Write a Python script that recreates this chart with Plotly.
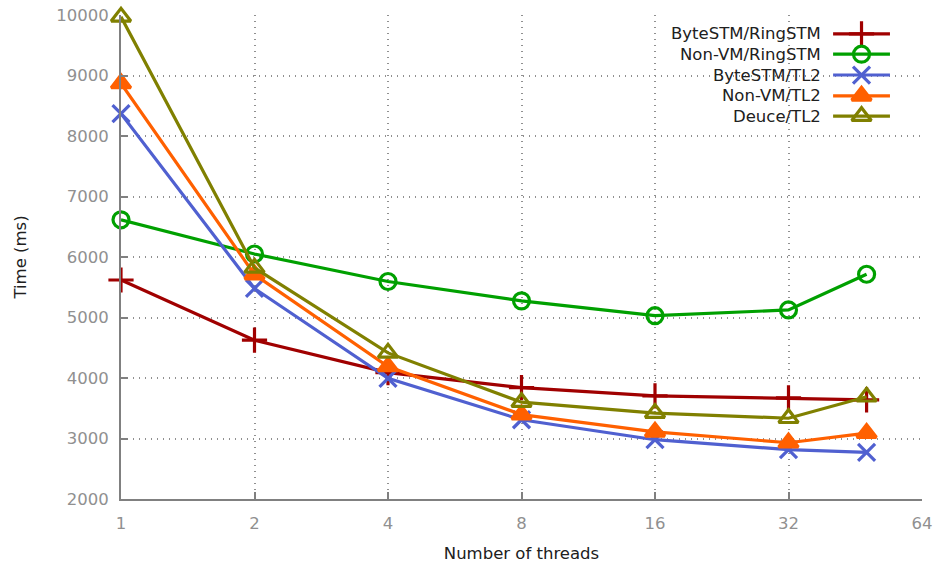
import math
import plotly.graph_objects as go

threads = [1, 2, 4, 8, 16, 32, 48]
series_names = ["ByteSTM/RingSTM", "Non-VM/RingSTM", "ByteSTM/TL2", "Non-VM/TL2", "Deuce/TL2"]
bytestm_ringstm = [5620, 4625, 4090, 3840, 3705, 3670, 3640]
nonvm_ringstm = [6615, 6050, 5595, 5275, 5030, 5125, 5715]
bytestm_tl2 = [8370, 5480, 3995, 3310, 2980, 2815, 2770]
nonvm_tl2 = [8870, 5710, 4190, 3395, 3110, 2930, 3090]
deuce_tl2 = [9970, 5820, 4415, 3600, 3420, 3335, 3690]
x_ticks = [1, 2, 4, 8, 16, 32, 64]
y_ticks = [2000, 3000, 4000, 5000, 6000, 7000, 8000, 9000, 10000]

values = [bytestm_ringstm, nonvm_ringstm, bytestm_tl2, nonvm_tl2, deuce_tl2]
colors = ["#a00000", "#00a000", "#5060d0", "#ff6000", "#808000"]
symbols = ["cross-thin", "circle-open", "x-thin", "triangle-up", "triangle-up-open"]
sizes = [18, 16, 17, 17, 17]

FONT = "DejaVu Sans"
fig = go.Figure()

for name, vals, c, s, sz in zip(series_names, values, colors, symbols, sizes):
    fig.add_trace(go.Scatter(
        x=threads, y=vals, name=name, mode="lines+markers",
        line=dict(color=c, width=3.2),
        marker=dict(symbol=s, size=sz, color=c, line=dict(color=c, width=3.2)),
        showlegend=False, hoverinfo="skip", cliponaxis=False,
    ))

# custom gnuplot-style legend (text left, sample on the right)
row_y = [0.961, 0.919, 0.876, 0.833, 0.791]
annotations = []
for name, c, s, sz, ry in zip(series_names, colors, symbols, sizes, row_y):
    fig.add_trace(go.Scatter(
        x=[0.889, 0.960], y=[ry, ry], mode="lines", xaxis="x2", yaxis="y2",
        line=dict(color=c, width=3.2), showlegend=False, hoverinfo="skip",
    ))
    fig.add_trace(go.Scatter(
        x=[0.9245], y=[ry], mode="markers", xaxis="x2", yaxis="y2",
        marker=dict(symbol=s, size=sz, color=c, line=dict(color=c, width=3.2)),
        showlegend=False, hoverinfo="skip",
    ))
    annotations.append(dict(
        x=0.876, y=ry, xref="paper", yref="paper", text=name, showarrow=False,
        xanchor="right", yanchor="middle", font=dict(family=FONT, size=16.5, color="#202020"),
    ))

grid_dash = "1px,5px"
fig.update_layout(
    width=939, height=563,
    margin=dict(l=121, r=17, t=15, b=64),
    paper_bgcolor="white", plot_bgcolor="white",
    font=dict(family=FONT, size=16.5, color="#202020"),
    annotations=annotations,
    xaxis=dict(
        type="log", range=[0, math.log10(64)], automargin=False,
        tickvals=x_ticks, ticktext=[str(v) for v in x_ticks],
        ticks="inside", ticklen=7, tickwidth=2, tickcolor="#808080",
        ticklabelstandoff=8,
        showline=True, linecolor="#808080", linewidth=2,
        showgrid=True, gridcolor="#909090", griddash=grid_dash, gridwidth=1.5,
        zeroline=False, mirror=False,
        tickfont=dict(family=FONT, size=16.5, color="#909090"),
        title=dict(text="Number of threads", font=dict(family=FONT, size=16.5, color="#202020"), standoff=18),
    ),
    yaxis=dict(
        range=[2000, 10000], automargin=False,
        tickvals=y_ticks, ticktext=[str(v) for v in y_ticks],
        ticks="inside", ticklen=7, tickwidth=2, tickcolor="#808080",
        ticklabelstandoff=7,
        showline=True, linecolor="#808080", linewidth=2,
        showgrid=True, gridcolor="#909090", griddash=grid_dash, gridwidth=1.5,
        zeroline=False,
        tickfont=dict(family=FONT, size=16.5, color="#909090"),
        title=dict(text="Time (ms)", font=dict(family=FONT, size=16.5, color="#202020"), standoff=25),
    ),
    xaxis2=dict(overlaying="x", range=[0, 1], visible=False, fixedrange=True),
    yaxis2=dict(overlaying="y", range=[0, 1], visible=False, fixedrange=True),
)

fig.write_html("out.html")
